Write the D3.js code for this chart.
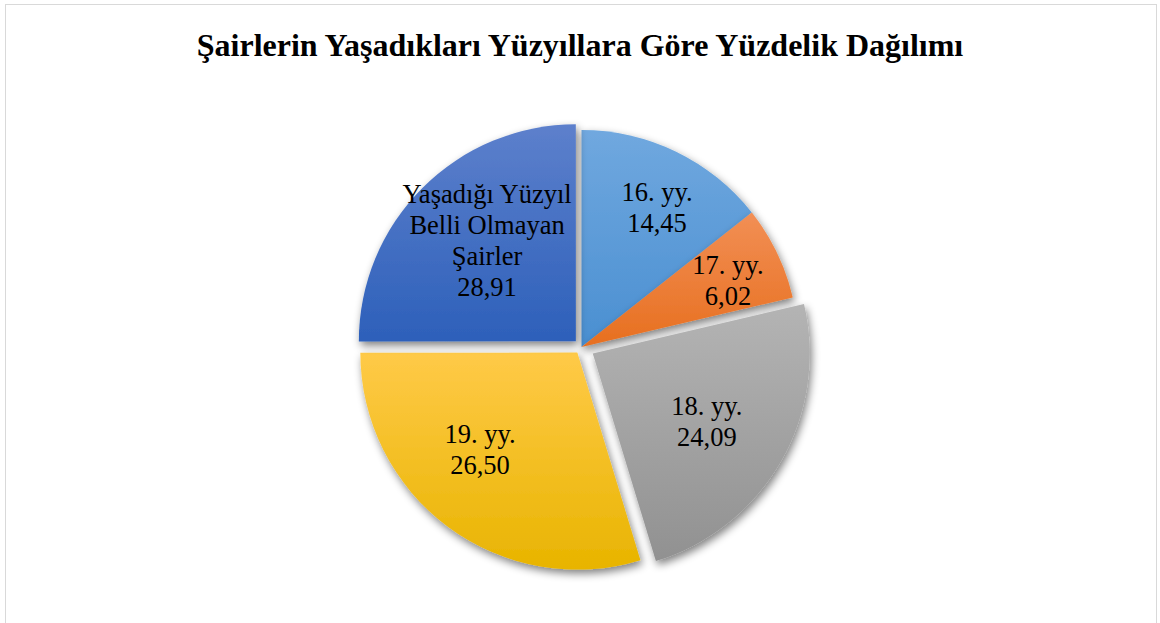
<!DOCTYPE html>
<html>
<head>
<meta charset="utf-8">
<script src="https://cdn.jsdelivr.net/npm/d3@7"></script>
<style>
	body { margin: 0; background: #fff; }
	svg { display: block; }
	.title { font-family: 'Liberation Serif', 'Times New Roman', serif; font-weight: bold; font-size: 32px; fill: #000; }
	.label { font-family: 'Liberation Serif', 'Times New Roman', serif; font-size: 26.5px; fill: #000; }
</style>
</head>
<body>
<div class="chart"></div>
<script>
// categories, clockwise from 12 o'clock
const categories = ['16. yy.', '17. yy.', '18. yy.', '19. yy.', 'Yaşadığı Yüzyıl Belli Olmayan Şairler']
// percentages printed in the labels
const percentValues = [14.45, 6.02, 24.09, 26.50, 28.91]
// slice sizes as they are drawn in the reference
const sliceShares = [14.36, 6.97, 23.97, 29.69, 25.0]

const colorsTop = ['#70a8df', '#f28f55', '#b4b4b4', '#ffca48', '#5d80cc']
const colorsBottom = ['#4a8fd1', '#e76f1f', '#919191', '#e8b400', '#2d60ba']
const explode = [0, 0, 13, 7, 8]
// label placement: distance from slice tip and turn (deg) from the mid angle
const labelRadius = [159, 161, 133, 137, 134]
const labelTurn = [2.5, 1.2, 1, 8.7, 3.5]
const labelLines = [null, null, null, null, ['Yaşadığı Yüzyıl', 'Belli Olmayan', 'Şairler']]

const width = 1160
const height = 623
const cx = 581.5
const cy = 347
const radius = 217
const lineH = 31

const fmt = v => v.toFixed(2).replace('.', ',')

const svg = d3.select('.chart')
	.append('svg')
	.attr('width', width)
	.attr('height', height)

const defs = svg.append('defs')

const shadow = defs.append('filter')
	.attr('id', 'shadow')
	.attr('x', '-20%').attr('y', '-20%')
	.attr('width', '140%').attr('height', '140%')
shadow.append('feGaussianBlur').attr('in', 'SourceAlpha').attr('stdDeviation', 4)
shadow.append('feOffset').attr('dx', 2).attr('dy', 4).attr('result', 'blur')
shadow.append('feComponentTransfer').append('feFuncA').attr('type', 'linear').attr('slope', 0.5)
const merge = shadow.append('feMerge')
merge.append('feMergeNode')
merge.append('feMergeNode').attr('in', 'SourceGraphic')

categories.forEach((c, i) => {
	const g = defs.append('linearGradient')
		.attr('id', `grad${i}`)
		.attr('x1', 0).attr('y1', 0).attr('x2', 0).attr('y2', 1)
	g.append('stop').attr('offset', '0%').attr('stop-color', colorsTop[i])
	g.append('stop').attr('offset', '100%').attr('stop-color', colorsBottom[i])
})

// chart border
svg.append('rect')
	.attr('x', 5.5)
	.attr('y', 4.5)
	.attr('width', 1151)
	.attr('height', 700)
	.attr('fill', 'none')
	.attr('stroke', '#d9d9d9')
	.attr('stroke-width', 1)

svg.append('text')
	.attr('class', 'title')
	.attr('x', width / 2)
	.attr('y', 56)
	.attr('text-anchor', 'middle')
	.text('Şairlerin Yaşadıkları Yüzyıllara Göre Yüzdelik Dağılımı')

const pie = d3.pie()
	.sort(null)
	.value(d => d.share)

const data = categories.map((c, i) => ({ name: c, share: sliceShares[i], pct: percentValues[i], i }))
const arcs = pie(data)

const arc = d3.arc()
	.innerRadius(0)
	.outerRadius(radius)

const gPie = svg.append('g')
	.attr('transform', `translate(${cx}, ${cy})`)

function offset(d) {
	const a = (d.startAngle + d.endAngle) / 2
	const e = explode[d.data.i]
	return [Math.sin(a) * e, -Math.cos(a) * e]
}

const slices = gPie.selectAll('g.slice')
	.data(arcs)
	.enter().append('g')
	.attr('class', 'slice')
	.attr('transform', d => {
		const o = offset(d)
		return `translate(${o[0]}, ${o[1]})`
	})

slices.append('path')
	.attr('d', arc)
	.attr('fill', d => `url(#grad${d.data.i})`)
	.attr('filter', 'url(#shadow)')

slices.each(function(d) {
	const a = (d.startAngle + d.endAngle) / 2 + labelTurn[d.data.i] * Math.PI / 180
	const r = labelRadius[d.data.i]
	const lx = Math.sin(a) * r
	const ly = -Math.cos(a) * r
	const lines = (labelLines[d.data.i] || [d.data.name]).concat([fmt(d.data.pct)])
	const t = d3.select(this).append('text')
		.attr('class', 'label')
		.attr('text-anchor', 'middle')
		.attr('x', lx)
		.attr('y', ly - (lines.length - 1) * lineH / 2 + 9)
	t.selectAll('tspan')
		.data(lines)
		.enter().append('tspan')
		.attr('x', lx)
		.attr('dy', (l, j) => j === 0 ? 0 : lineH)
		.text(l => l)
})
</script>
</body>
</html>
